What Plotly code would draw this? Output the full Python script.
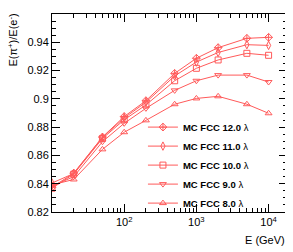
import plotly.graph_objects as go

energy = [10, 20, 50, 100, 200, 500, 1000, 2000, 5000, 10000]
r12 = [0.8375, 0.8475, 0.8730, 0.8875, 0.8987, 0.9180, 0.9287, 0.9362, 0.9428, 0.9435]
r11 = [0.8405, 0.8472, 0.8728, 0.8865, 0.8976, 0.9162, 0.9260, 0.9328, 0.9383, 0.9378]
r10 = [0.8368, 0.8468, 0.8720, 0.8852, 0.8957, 0.9128, 0.9216, 0.9275, 0.9322, 0.9308]
r9 = [0.8382, 0.8450, 0.8697, 0.8827, 0.8933, 0.9060, 0.9128, 0.9168, 0.9168, 0.9119]
r8 = [0.8392, 0.8430, 0.8643, 0.8764, 0.8848, 0.8962, 0.9003, 0.9018, 0.8962, 0.8898]

names = ["MC FCC 12.0 λ", "MC FCC 11.0 λ", "MC FCC 10.0 λ", "MC FCC 9.0 λ", "MC FCC 8.0 λ"]
series = [r12, r11, r10, r9, r8]
symbols = ["diamond-cross-open", "diamond-tall-open", "square-open", "triangle-down-open", "triangle-up-open"]
sizes = [6, 6, 6, 6, 6]

y_ticks = [0.82, 0.84, 0.86, 0.88, 0.90, 0.92, 0.94, 0.96]
y_ticktext = ["0.82", "0.84", "0.86", "0.88", "0.9", "0.92", "0.94", "0.96"]
x_ticks = [100, 1000, 10000]
x_ticktext = ["10<sup>2</sup>", "10<sup>3</sup>", "10<sup>4</sup>"]

color = "rgb(255,90,90)"
font = "Liberation Sans"

fig = go.Figure()
for nm, ys, sym, sz in zip(names, series, symbols, sizes):
    fig.add_trace(go.Scatter(
        x=energy, y=ys, name="<b>" + nm.replace(" λ", "</b> λ"),
        mode="lines+markers",
        line=dict(color=color, width=1),
        marker=dict(symbol=sym, size=sz, color=color, line=dict(color=color, width=1)),
    ))

# page body has an 8px default margin; size the figure to fit the 293x252 window
fig.update_layout(
    width=285, height=244,
    margin=dict(l=44, r=6, t=6, b=40),
    paper_bgcolor="white", plot_bgcolor="white",
    font=dict(family=font, size=11, color="black"),
    showlegend=True,
    legend=dict(x=0.387, y=0.502, xanchor="left", yanchor="top",
                bgcolor="rgba(0,0,0,0)", font=dict(size=9.5, color="black"),
                itemwidth=30, tracegroupgap=0),
)
fig.update_xaxes(
    type="log", range=[1.0, 4.255],
    tickvals=x_ticks, ticktext=x_ticktext,
    ticks="inside", ticklen=8, tickcolor="black",
    showline=True, linecolor="black", linewidth=1, mirror="ticks",
    showgrid=False, zeroline=False,
    minor=dict(ticks="inside", ticklen=4, tickcolor="black", dtick="D1", showgrid=False),
    tickfont=dict(size=11),
)
fig.update_yaxes(
    range=[0.82, 0.96],
    tickvals=y_ticks, ticktext=y_ticktext,
    ticks="inside", ticklen=8, tickcolor="black",
    showline=True, linecolor="black", linewidth=1, mirror="ticks",
    showgrid=False, zeroline=False,
    minor=dict(ticks="inside", ticklen=4, tickcolor="black", dtick=0.005, showgrid=False),
    tickfont=dict(size=11),
)
fig.add_annotation(text="E (GeV)", xref="paper", yref="paper", x=1.0, y=-(240 - 212) / 198,
                   xanchor="right", yanchor="middle", showarrow=False, font=dict(size=11))
fig.add_annotation(text="E(π<sup>+</sup>)/E(e<sup>-</sup>)", xref="paper", yref="paper",
                   x=(13 - 52) / 235, y=1 + 2 / 198, xanchor="center", yanchor="top",
                   textangle=-90, showarrow=False, font=dict(size=11))

fig.write_html("out.html")
